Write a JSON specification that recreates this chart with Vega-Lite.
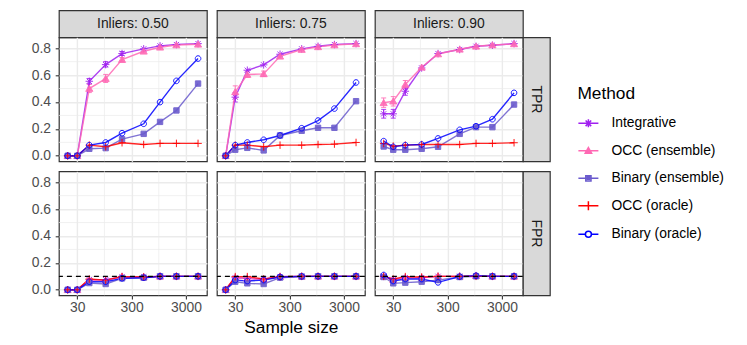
{
"$schema": "https://vega.github.io/schema/vega-lite/v6.json",
"padding": {"left": 29.9, "top": 9.3, "right": 5, "bottom": 5},
"datasets": {
"my": [{"v":0.1},{"v":0.3},{"v":0.5},{"v":0.7}],
"mx": [{"v":94.87},{"v":948.7}],
"ref": [{"v":0.1}],
"t50": [
{"method":"Integrative","n":20,"v":0},{"method":"Integrative","n":30,"v":0},{"method":"Integrative","n":50,"v":0.554,"lo":0.535,"hi":0.575},{"method":"Integrative","n":100,"v":0.678,"lo":0.66,"hi":0.7},{"method":"Integrative","n":200,"v":0.76,"lo":0.745,"hi":0.775},{"method":"Integrative","n":500,"v":0.795},{"method":"Integrative","n":1000,"v":0.817},{"method":"Integrative","n":2000,"v":0.827},{"method":"Integrative","n":5000,"v":0.834},
{"method":"OCC (ensemble)","n":20,"v":0},{"method":"OCC (ensemble)","n":30,"v":0},{"method":"OCC (ensemble)","n":50,"v":0.5,"lo":0.47,"hi":0.53},{"method":"OCC (ensemble)","n":100,"v":0.574,"lo":0.545,"hi":0.605},{"method":"OCC (ensemble)","n":200,"v":0.715,"lo":0.7,"hi":0.73},{"method":"OCC (ensemble)","n":500,"v":0.777},{"method":"OCC (ensemble)","n":1000,"v":0.807},{"method":"OCC (ensemble)","n":2000,"v":0.824},{"method":"OCC (ensemble)","n":5000,"v":0.829},
{"method":"Binary (ensemble)","n":20,"v":0},{"method":"Binary (ensemble)","n":30,"v":0},{"method":"Binary (ensemble)","n":50,"v":0.052},{"method":"Binary (ensemble)","n":100,"v":0.057},{"method":"Binary (ensemble)","n":200,"v":0.124},{"method":"Binary (ensemble)","n":500,"v":0.163},{"method":"Binary (ensemble)","n":1000,"v":0.252},{"method":"Binary (ensemble)","n":2000,"v":0.337},{"method":"Binary (ensemble)","n":5000,"v":0.537},
{"method":"OCC (oracle)","n":20,"v":0},{"method":"OCC (oracle)","n":30,"v":0},{"method":"OCC (oracle)","n":50,"v":0.079},{"method":"OCC (oracle)","n":100,"v":0.067},{"method":"OCC (oracle)","n":200,"v":0.097},{"method":"OCC (oracle)","n":500,"v":0.084},{"method":"OCC (oracle)","n":1000,"v":0.092},{"method":"OCC (oracle)","n":2000,"v":0.092},{"method":"OCC (oracle)","n":5000,"v":0.092},
{"method":"Binary (oracle)","n":20,"v":0},{"method":"Binary (oracle)","n":30,"v":0},{"method":"Binary (oracle)","n":50,"v":0.079},{"method":"Binary (oracle)","n":100,"v":0.099},{"method":"Binary (oracle)","n":200,"v":0.168},{"method":"Binary (oracle)","n":500,"v":0.238},{"method":"Binary (oracle)","n":1000,"v":0.399},{"method":"Binary (oracle)","n":2000,"v":0.557},{"method":"Binary (oracle)","n":5000,"v":0.723}
],
"t75": [
{"method":"Integrative","n":20,"v":0},{"method":"Integrative","n":30,"v":0.436,"lo":0.4,"hi":0.47},{"method":"Integrative","n":50,"v":0.636},{"method":"Integrative","n":100,"v":0.676},{"method":"Integrative","n":200,"v":0.755},{"method":"Integrative","n":500,"v":0.795},{"method":"Integrative","n":1000,"v":0.814},{"method":"Integrative","n":2000,"v":0.827},{"method":"Integrative","n":5000,"v":0.834},
{"method":"OCC (ensemble)","n":20,"v":0},{"method":"OCC (ensemble)","n":30,"v":0.475,"lo":0.43,"hi":0.52},{"method":"OCC (ensemble)","n":50,"v":0.604,"lo":0.585,"hi":0.625},{"method":"OCC (ensemble)","n":100,"v":0.609,"lo":0.59,"hi":0.63},{"method":"OCC (ensemble)","n":200,"v":0.74},{"method":"OCC (ensemble)","n":500,"v":0.79},{"method":"OCC (ensemble)","n":1000,"v":0.81},{"method":"OCC (ensemble)","n":2000,"v":0.824},{"method":"OCC (ensemble)","n":5000,"v":0.832},
{"method":"Binary (ensemble)","n":20,"v":0},{"method":"Binary (ensemble)","n":30,"v":0.045},{"method":"Binary (ensemble)","n":50,"v":0.059},{"method":"Binary (ensemble)","n":100,"v":0.04},{"method":"Binary (ensemble)","n":200,"v":0.151},{"method":"Binary (ensemble)","n":500,"v":0.186},{"method":"Binary (ensemble)","n":1000,"v":0.208},{"method":"Binary (ensemble)","n":2000,"v":0.208},{"method":"Binary (ensemble)","n":5000,"v":0.406},
{"method":"OCC (oracle)","n":20,"v":0},{"method":"OCC (oracle)","n":30,"v":0.079},{"method":"OCC (oracle)","n":50,"v":0.079},{"method":"OCC (oracle)","n":100,"v":0.067},{"method":"OCC (oracle)","n":200,"v":0.079},{"method":"OCC (oracle)","n":500,"v":0.079},{"method":"OCC (oracle)","n":1000,"v":0.084},{"method":"OCC (oracle)","n":2000,"v":0.087},{"method":"OCC (oracle)","n":5000,"v":0.099},
{"method":"Binary (oracle)","n":20,"v":0},{"method":"Binary (oracle)","n":30,"v":0.079},{"method":"Binary (oracle)","n":50,"v":0.099},{"method":"Binary (oracle)","n":100,"v":0.119},{"method":"Binary (oracle)","n":200,"v":0.151},{"method":"Binary (oracle)","n":500,"v":0.205},{"method":"Binary (oracle)","n":1000,"v":0.262},{"method":"Binary (oracle)","n":2000,"v":0.351},{"method":"Binary (oracle)","n":5000,"v":0.545}
],
"t90": [
{"method":"Integrative","n":20,"v":0.312,"lo":0.28,"hi":0.345},{"method":"Integrative","n":30,"v":0.312,"lo":0.28,"hi":0.345},{"method":"Integrative","n":50,"v":0.48,"lo":0.45,"hi":0.51},{"method":"Integrative","n":100,"v":0.653},{"method":"Integrative","n":200,"v":0.76},{"method":"Integrative","n":500,"v":0.79},{"method":"Integrative","n":1000,"v":0.814},{"method":"Integrative","n":2000,"v":0.822},{"method":"Integrative","n":5000,"v":0.834},
{"method":"OCC (ensemble)","n":20,"v":0.394,"lo":0.36,"hi":0.43},{"method":"OCC (ensemble)","n":30,"v":0.406,"lo":0.37,"hi":0.44},{"method":"OCC (ensemble)","n":50,"v":0.53,"lo":0.5,"hi":0.56},{"method":"OCC (ensemble)","n":100,"v":0.658},{"method":"OCC (ensemble)","n":200,"v":0.757},{"method":"OCC (ensemble)","n":500,"v":0.792},{"method":"OCC (ensemble)","n":1000,"v":0.814},{"method":"OCC (ensemble)","n":2000,"v":0.824},{"method":"OCC (ensemble)","n":5000,"v":0.832},
{"method":"Binary (ensemble)","n":20,"v":0.069},{"method":"Binary (ensemble)","n":30,"v":0.045},{"method":"Binary (ensemble)","n":50,"v":0.045},{"method":"Binary (ensemble)","n":100,"v":0.052},{"method":"Binary (ensemble)","n":200,"v":0.067},{"method":"Binary (ensemble)","n":500,"v":0.163},{"method":"Binary (ensemble)","n":1000,"v":0.213},{"method":"Binary (ensemble)","n":2000,"v":0.213},{"method":"Binary (ensemble)","n":5000,"v":0.381},
{"method":"OCC (oracle)","n":20,"v":0.092},{"method":"OCC (oracle)","n":30,"v":0.072},{"method":"OCC (oracle)","n":50,"v":0.079},{"method":"OCC (oracle)","n":100,"v":0.084},{"method":"OCC (oracle)","n":200,"v":0.084},{"method":"OCC (oracle)","n":500,"v":0.084},{"method":"OCC (oracle)","n":1000,"v":0.092},{"method":"OCC (oracle)","n":2000,"v":0.092},{"method":"OCC (oracle)","n":5000,"v":0.097},
{"method":"Binary (oracle)","n":20,"v":0.109},{"method":"Binary (oracle)","n":30,"v":0.067},{"method":"Binary (oracle)","n":50,"v":0.079},{"method":"Binary (oracle)","n":100,"v":0.084},{"method":"Binary (oracle)","n":200,"v":0.129},{"method":"Binary (oracle)","n":500,"v":0.193},{"method":"Binary (oracle)","n":1000,"v":0.22},{"method":"Binary (oracle)","n":2000,"v":0.272},{"method":"Binary (oracle)","n":5000,"v":0.468}
],
"f50": [
{"method":"Integrative","n":20,"v":0},{"method":"Integrative","n":30,"v":0},{"method":"Integrative","n":50,"v":0.075},{"method":"Integrative","n":100,"v":0.075},{"method":"Integrative","n":200,"v":0.098},{"method":"Integrative","n":500,"v":0.096},{"method":"Integrative","n":1000,"v":0.1},{"method":"Integrative","n":2000,"v":0.1},{"method":"Integrative","n":5000,"v":0.1},
{"method":"OCC (ensemble)","n":20,"v":0},{"method":"OCC (ensemble)","n":30,"v":0},{"method":"OCC (ensemble)","n":50,"v":0.075},{"method":"OCC (ensemble)","n":100,"v":0.07},{"method":"OCC (ensemble)","n":200,"v":0.097},{"method":"OCC (ensemble)","n":500,"v":0.095},{"method":"OCC (ensemble)","n":1000,"v":0.1},{"method":"OCC (ensemble)","n":2000,"v":0.1},{"method":"OCC (ensemble)","n":5000,"v":0.1},
{"method":"Binary (ensemble)","n":20,"v":0},{"method":"Binary (ensemble)","n":30,"v":0},{"method":"Binary (ensemble)","n":50,"v":0.05},{"method":"Binary (ensemble)","n":100,"v":0.043},{"method":"Binary (ensemble)","n":200,"v":0.085},{"method":"Binary (ensemble)","n":500,"v":0.09},{"method":"Binary (ensemble)","n":1000,"v":0.1},{"method":"Binary (ensemble)","n":2000,"v":0.1},{"method":"Binary (ensemble)","n":5000,"v":0.1},
{"method":"OCC (oracle)","n":20,"v":0},{"method":"OCC (oracle)","n":30,"v":0},{"method":"OCC (oracle)","n":50,"v":0.08},{"method":"OCC (oracle)","n":100,"v":0.072},{"method":"OCC (oracle)","n":200,"v":0.098},{"method":"OCC (oracle)","n":500,"v":0.095},{"method":"OCC (oracle)","n":1000,"v":0.1},{"method":"OCC (oracle)","n":2000,"v":0.1},{"method":"OCC (oracle)","n":5000,"v":0.1},
{"method":"Binary (oracle)","n":20,"v":0},{"method":"Binary (oracle)","n":30,"v":0},{"method":"Binary (oracle)","n":50,"v":0.06},{"method":"Binary (oracle)","n":100,"v":0.06},{"method":"Binary (oracle)","n":200,"v":0.085},{"method":"Binary (oracle)","n":500,"v":0.09},{"method":"Binary (oracle)","n":1000,"v":0.1},{"method":"Binary (oracle)","n":2000,"v":0.1},{"method":"Binary (oracle)","n":5000,"v":0.1}
],
"f75": [
{"method":"Integrative","n":20,"v":0},{"method":"Integrative","n":30,"v":0.09},{"method":"Integrative","n":50,"v":0.085},{"method":"Integrative","n":100,"v":0.078},{"method":"Integrative","n":200,"v":0.098},{"method":"Integrative","n":500,"v":0.1},{"method":"Integrative","n":1000,"v":0.1},{"method":"Integrative","n":2000,"v":0.1},{"method":"Integrative","n":5000,"v":0.1},
{"method":"OCC (ensemble)","n":20,"v":0},{"method":"OCC (ensemble)","n":30,"v":0.09},{"method":"OCC (ensemble)","n":50,"v":0.085},{"method":"OCC (ensemble)","n":100,"v":0.078},{"method":"OCC (ensemble)","n":200,"v":0.097},{"method":"OCC (ensemble)","n":500,"v":0.1},{"method":"OCC (ensemble)","n":1000,"v":0.1},{"method":"OCC (ensemble)","n":2000,"v":0.1},{"method":"OCC (ensemble)","n":5000,"v":0.1},
{"method":"Binary (ensemble)","n":20,"v":0},{"method":"Binary (ensemble)","n":30,"v":0.06},{"method":"Binary (ensemble)","n":50,"v":0.048},{"method":"Binary (ensemble)","n":100,"v":0.043},{"method":"Binary (ensemble)","n":200,"v":0.09},{"method":"Binary (ensemble)","n":500,"v":0.098},{"method":"Binary (ensemble)","n":1000,"v":0.1},{"method":"Binary (ensemble)","n":2000,"v":0.1},{"method":"Binary (ensemble)","n":5000,"v":0.1},
{"method":"OCC (oracle)","n":20,"v":0},{"method":"OCC (oracle)","n":30,"v":0.098},{"method":"OCC (oracle)","n":50,"v":0.098},{"method":"OCC (oracle)","n":100,"v":0.08},{"method":"OCC (oracle)","n":200,"v":0.098},{"method":"OCC (oracle)","n":500,"v":0.1},{"method":"OCC (oracle)","n":1000,"v":0.1},{"method":"OCC (oracle)","n":2000,"v":0.1},{"method":"OCC (oracle)","n":5000,"v":0.1},
{"method":"Binary (oracle)","n":20,"v":0},{"method":"Binary (oracle)","n":30,"v":0.072},{"method":"Binary (oracle)","n":50,"v":0.065},{"method":"Binary (oracle)","n":100,"v":0.072},{"method":"Binary (oracle)","n":200,"v":0.095},{"method":"Binary (oracle)","n":500,"v":0.1},{"method":"Binary (oracle)","n":1000,"v":0.1},{"method":"Binary (oracle)","n":2000,"v":0.1},{"method":"Binary (oracle)","n":5000,"v":0.1}
],
"f90": [
{"method":"Integrative","n":20,"v":0.1},{"method":"Integrative","n":30,"v":0.075},{"method":"Integrative","n":50,"v":0.09},{"method":"Integrative","n":100,"v":0.09},{"method":"Integrative","n":200,"v":0.1},{"method":"Integrative","n":500,"v":0.1},{"method":"Integrative","n":1000,"v":0.105},{"method":"Integrative","n":2000,"v":0.1},{"method":"Integrative","n":5000,"v":0.1},
{"method":"OCC (ensemble)","n":20,"v":0.1},{"method":"OCC (ensemble)","n":30,"v":0.075},{"method":"OCC (ensemble)","n":50,"v":0.09},{"method":"OCC (ensemble)","n":100,"v":0.092},{"method":"OCC (ensemble)","n":200,"v":0.1},{"method":"OCC (ensemble)","n":500,"v":0.1},{"method":"OCC (ensemble)","n":1000,"v":0.105},{"method":"OCC (ensemble)","n":2000,"v":0.1},{"method":"OCC (ensemble)","n":5000,"v":0.1},
{"method":"Binary (ensemble)","n":20,"v":0.095},{"method":"Binary (ensemble)","n":30,"v":0.048},{"method":"Binary (ensemble)","n":50,"v":0.053},{"method":"Binary (ensemble)","n":100,"v":0.06},{"method":"Binary (ensemble)","n":200,"v":0.072},{"method":"Binary (ensemble)","n":500,"v":0.095},{"method":"Binary (ensemble)","n":1000,"v":0.1},{"method":"Binary (ensemble)","n":2000,"v":0.1},{"method":"Binary (ensemble)","n":5000,"v":0.1},
{"method":"OCC (oracle)","n":20,"v":0.1},{"method":"OCC (oracle)","n":30,"v":0.08},{"method":"OCC (oracle)","n":50,"v":0.098},{"method":"OCC (oracle)","n":100,"v":0.095},{"method":"OCC (oracle)","n":200,"v":0.1},{"method":"OCC (oracle)","n":500,"v":0.1},{"method":"OCC (oracle)","n":1000,"v":0.1},{"method":"OCC (oracle)","n":2000,"v":0.1},{"method":"OCC (oracle)","n":5000,"v":0.1},
{"method":"Binary (oracle)","n":20,"v":0.11},{"method":"Binary (oracle)","n":30,"v":0.065},{"method":"Binary (oracle)","n":50,"v":0.08},{"method":"Binary (oracle)","n":100,"v":0.08},{"method":"Binary (oracle)","n":200,"v":0.055},{"method":"Binary (oracle)","n":500,"v":0.098},{"method":"Binary (oracle)","n":1000,"v":0.105},{"method":"Binary (oracle)","n":2000,"v":0.1},{"method":"Binary (oracle)","n":5000,"v":0.1}
]
},
"columns": 6,
"spacing": 0,
"align": "each",
"bounds": "flush",
"resolve": {"scale": {"color": "independent", "shape": "independent", "fill": "independent", "x": "independent", "y": "independent"}, "legend": {"color": "independent", "shape": "independent"}},
"concat": [
{"width":148,"height":27,"data":{"values":[{"t":"Inliers: 0.50"}]},"mark":{"type":"text","fontSize":13.9,"color":"#1A1A1A"},"encoding":{"text":{"field":"t","type":"nominal"}},"view":{"fill":"#D9D9D9","stroke":"#333333","strokeWidth":1.2}},
{"width":10,"height":27,"data":{"values":[{}]},"mark":"text","encoding":{"text":{"value":""}},"view":{"stroke":null}},
{"width":148,"height":27,"data":{"values":[{"t":"Inliers: 0.75"}]},"mark":{"type":"text","fontSize":13.9,"color":"#1A1A1A"},"encoding":{"text":{"field":"t","type":"nominal"}},"view":{"fill":"#D9D9D9","stroke":"#333333","strokeWidth":1.2}},
{"width":10,"height":27,"data":{"values":[{}]},"mark":"text","encoding":{"text":{"value":""}},"view":{"stroke":null}},
{"width":148,"height":27,"data":{"values":[{"t":"Inliers: 0.90"}]},"mark":{"type":"text","fontSize":13.9,"color":"#1A1A1A"},"encoding":{"text":{"field":"t","type":"nominal"}},"view":{"fill":"#D9D9D9","stroke":"#333333","strokeWidth":1.2}},
{"width":27,"height":27,"view":{"stroke":null},"data":{"values":[]},"mark":{"type":"point","filled":false,"opacity":1,"strokeWidth":1.5},
 "encoding":{
  "color":{"field":"method","type":"nominal","scale":{"domain":["Integrative","OCC (ensemble)","Binary (ensemble)","OCC (oracle)","Binary (oracle)"],"range":["#A020F0","#FF69B4","#6A5ACD","#FF0000","#0000FF"]},"legend":{"title":"Method","orient":"none","legendX":54.5,"legendY":74.7}},
  "shape":{"field":"method","type":"nominal","scale":{"domain":["Integrative","OCC (ensemble)","Binary (ensemble)","OCC (oracle)","Binary (oracle)"],"range":["M-1,0H1M0,-0.4V0.4M-0.28,-0.28L0.28,0.28M-0.28,0.28L0.28,-0.28","M-1,0H1M0,-0.32L0.32,0.24H-0.32ZM0,-0.14L0.14,0.12H-0.14Z","M-1,0H1M-0.26,-0.26H0.26V0.26H-0.26ZM-0.1,-0.1H0.1V0.1H-0.1Z","M-1,0H1M0,-0.45V0.45","M-1,0H-0.3M0.3,0H1M0.3,0A0.3,0.3,0,1,1,-0.3,0A0.3,0.3,0,1,1,0.3,0Z"]},"legend":{"title":"Method","orient":"none","legendX":54.5,"legendY":74.7}}
 }},

{"width":148,"height":124,"data":{"name":"t50"},"layer":[
 {"data":{"name":"my"},"mark":{"type":"rule","color":"#EBEBEB","strokeWidth":0.7},"encoding":{"y":{"field":"v","type":"quantitative","scale":{"domain":[-0.041,0.881],"nice":false,"zero":false},"axis":{"values":[0,0.2,0.4,0.6,0.8],"format":".1f","title":null,"labelOverlap":false}}}},
 {"data":{"name":"mx"},"mark":{"type":"rule","color":"#EBEBEB","strokeWidth":0.7},"encoding":{"x":{"field":"v","type":"quantitative","scale":{"type":"log","domain":[13.8,7270],"nice":false},"axis":{"values":[30,300,3000],"labels":false,"ticks":false,"title":null}}}},
 {"transform":[{"filter":"isValid(datum.lo)"}],"mark":{"type":"errorbar","ticks":true,"thickness":1,"opacity":0.85},"encoding":{"x":{"field":"n","type":"quantitative","axis":{"values":[30,300,3000],"labels":false,"ticks":false,"title":null}},"y":{"field":"lo","type":"quantitative","axis":{"values":[0,0.2,0.4,0.6,0.8],"format":".1f","title":null,"labelOverlap":false}},"y2":{"field":"hi"},"color":{"field":"method","type":"nominal","scale":{"domain":["Integrative","OCC (ensemble)","Binary (ensemble)","OCC (oracle)","Binary (oracle)"],"range":["#A020F0","#FF69B4","#6A5ACD","#FF0000","#0000FF"]},"legend":null}}},
 {"mark":{"type":"line","strokeWidth":1.4,"opacity":0.85},"encoding":{"x":{"field":"n","type":"quantitative","axis":{"values":[30,300,3000],"labels":false,"ticks":false,"title":null}},"y":{"field":"v","type":"quantitative","axis":{"values":[0,0.2,0.4,0.6,0.8],"format":".1f","title":null,"labelOverlap":false}},"color":{"field":"method","type":"nominal","legend":null}}},
 {"mark":{"type":"point","filled":false,"size":56,"strokeWidth":1,"opacity":0.9},"encoding":{"x":{"field":"n","type":"quantitative","axis":{"values":[30,300,3000],"labels":false,"ticks":false,"title":null}},"y":{"field":"v","type":"quantitative","axis":{"values":[0,0.2,0.4,0.6,0.8],"format":".1f","title":null,"labelOverlap":false}},"color":{"field":"method","type":"nominal","legend":null},
  "shape":{"field":"method","type":"nominal","legend":null,"scale":{"domain":["Integrative","OCC (ensemble)","Binary (ensemble)","OCC (oracle)","Binary (oracle)"],"range":["M0,-1V1M-1,0H1M-0.7,-0.7L0.7,0.7M-0.7,0.7L0.7,-0.7","M0,-0.85L0.95,0.75H-0.95Z","M-0.72,-0.72H0.72V0.72H-0.72Z","M0,-1V1M-1,0H1","M0.75,0A0.75,0.75,0,1,1,-0.75,0A0.75,0.75,0,1,1,0.75,0Z"]}},
  "fill":{"field":"method","type":"nominal","legend":null,"scale":{"domain":["Integrative","OCC (ensemble)","Binary (ensemble)","OCC (oracle)","Binary (oracle)"],"range":["transparent","#FF69B4","#6A5ACD","transparent","transparent"]}}}}
]},
{"width":10,"height":124,"data":{"values":[{}]},"mark":"text","encoding":{"text":{"value":""}},"view":{"stroke":null}},
{"width":148,"height":124,"data":{"name":"t75"},"layer":[
 {"data":{"name":"my"},"mark":{"type":"rule","color":"#EBEBEB","strokeWidth":0.7},"encoding":{"y":{"field":"v","type":"quantitative","scale":{"domain":[-0.041,0.881],"nice":false,"zero":false},"axis":{"values":[0,0.2,0.4,0.6,0.8],"labels":false,"ticks":false,"title":null}}}},
 {"data":{"name":"mx"},"mark":{"type":"rule","color":"#EBEBEB","strokeWidth":0.7},"encoding":{"x":{"field":"v","type":"quantitative","scale":{"type":"log","domain":[13.8,7270],"nice":false},"axis":{"values":[30,300,3000],"labels":false,"ticks":false,"title":null}}}},
 {"transform":[{"filter":"isValid(datum.lo)"}],"mark":{"type":"errorbar","ticks":true,"thickness":1,"opacity":0.85},"encoding":{"x":{"field":"n","type":"quantitative","axis":{"values":[30,300,3000],"labels":false,"ticks":false,"title":null}},"y":{"field":"lo","type":"quantitative","axis":{"values":[0,0.2,0.4,0.6,0.8],"labels":false,"ticks":false,"title":null}},"y2":{"field":"hi"},"color":{"field":"method","type":"nominal","scale":{"domain":["Integrative","OCC (ensemble)","Binary (ensemble)","OCC (oracle)","Binary (oracle)"],"range":["#A020F0","#FF69B4","#6A5ACD","#FF0000","#0000FF"]},"legend":null}}},
 {"mark":{"type":"line","strokeWidth":1.4,"opacity":0.85},"encoding":{"x":{"field":"n","type":"quantitative","axis":{"values":[30,300,3000],"labels":false,"ticks":false,"title":null}},"y":{"field":"v","type":"quantitative","axis":{"values":[0,0.2,0.4,0.6,0.8],"labels":false,"ticks":false,"title":null}},"color":{"field":"method","type":"nominal","legend":null}}},
 {"mark":{"type":"point","filled":false,"size":56,"strokeWidth":1,"opacity":0.9},"encoding":{"x":{"field":"n","type":"quantitative","axis":{"values":[30,300,3000],"labels":false,"ticks":false,"title":null}},"y":{"field":"v","type":"quantitative","axis":{"values":[0,0.2,0.4,0.6,0.8],"labels":false,"ticks":false,"title":null}},"color":{"field":"method","type":"nominal","legend":null},
  "shape":{"field":"method","type":"nominal","legend":null,"scale":{"domain":["Integrative","OCC (ensemble)","Binary (ensemble)","OCC (oracle)","Binary (oracle)"],"range":["M0,-1V1M-1,0H1M-0.7,-0.7L0.7,0.7M-0.7,0.7L0.7,-0.7","M0,-0.85L0.95,0.75H-0.95Z","M-0.72,-0.72H0.72V0.72H-0.72Z","M0,-1V1M-1,0H1","M0.75,0A0.75,0.75,0,1,1,-0.75,0A0.75,0.75,0,1,1,0.75,0Z"]}},
  "fill":{"field":"method","type":"nominal","legend":null,"scale":{"domain":["Integrative","OCC (ensemble)","Binary (ensemble)","OCC (oracle)","Binary (oracle)"],"range":["transparent","#FF69B4","#6A5ACD","transparent","transparent"]}}}}
]},
{"width":10,"height":124,"data":{"values":[{}]},"mark":"text","encoding":{"text":{"value":""}},"view":{"stroke":null}},
{"width":148,"height":124,"data":{"name":"t90"},"layer":[
 {"data":{"name":"my"},"mark":{"type":"rule","color":"#EBEBEB","strokeWidth":0.7},"encoding":{"y":{"field":"v","type":"quantitative","scale":{"domain":[-0.041,0.881],"nice":false,"zero":false},"axis":{"values":[0,0.2,0.4,0.6,0.8],"labels":false,"ticks":false,"title":null}}}},
 {"data":{"name":"mx"},"mark":{"type":"rule","color":"#EBEBEB","strokeWidth":0.7},"encoding":{"x":{"field":"v","type":"quantitative","scale":{"type":"log","domain":[13.8,7270],"nice":false},"axis":{"values":[30,300,3000],"labels":false,"ticks":false,"title":null}}}},
 {"transform":[{"filter":"isValid(datum.lo)"}],"mark":{"type":"errorbar","ticks":true,"thickness":1,"opacity":0.85},"encoding":{"x":{"field":"n","type":"quantitative","axis":{"values":[30,300,3000],"labels":false,"ticks":false,"title":null}},"y":{"field":"lo","type":"quantitative","axis":{"values":[0,0.2,0.4,0.6,0.8],"labels":false,"ticks":false,"title":null}},"y2":{"field":"hi"},"color":{"field":"method","type":"nominal","scale":{"domain":["Integrative","OCC (ensemble)","Binary (ensemble)","OCC (oracle)","Binary (oracle)"],"range":["#A020F0","#FF69B4","#6A5ACD","#FF0000","#0000FF"]},"legend":null}}},
 {"mark":{"type":"line","strokeWidth":1.4,"opacity":0.85},"encoding":{"x":{"field":"n","type":"quantitative","axis":{"values":[30,300,3000],"labels":false,"ticks":false,"title":null}},"y":{"field":"v","type":"quantitative","axis":{"values":[0,0.2,0.4,0.6,0.8],"labels":false,"ticks":false,"title":null}},"color":{"field":"method","type":"nominal","legend":null}}},
 {"mark":{"type":"point","filled":false,"size":56,"strokeWidth":1,"opacity":0.9},"encoding":{"x":{"field":"n","type":"quantitative","axis":{"values":[30,300,3000],"labels":false,"ticks":false,"title":null}},"y":{"field":"v","type":"quantitative","axis":{"values":[0,0.2,0.4,0.6,0.8],"labels":false,"ticks":false,"title":null}},"color":{"field":"method","type":"nominal","legend":null},
  "shape":{"field":"method","type":"nominal","legend":null,"scale":{"domain":["Integrative","OCC (ensemble)","Binary (ensemble)","OCC (oracle)","Binary (oracle)"],"range":["M0,-1V1M-1,0H1M-0.7,-0.7L0.7,0.7M-0.7,0.7L0.7,-0.7","M0,-0.85L0.95,0.75H-0.95Z","M-0.72,-0.72H0.72V0.72H-0.72Z","M0,-1V1M-1,0H1","M0.75,0A0.75,0.75,0,1,1,-0.75,0A0.75,0.75,0,1,1,0.75,0Z"]}},
  "fill":{"field":"method","type":"nominal","legend":null,"scale":{"domain":["Integrative","OCC (ensemble)","Binary (ensemble)","OCC (oracle)","Binary (oracle)"],"range":["transparent","#FF69B4","#6A5ACD","transparent","transparent"]}}}}
]},
{"width":27,"height":124,"data":{"values":[{"t":"TPR"}]},"mark":{"type":"text","angle":90,"fontSize":13.9,"color":"#1A1A1A"},"encoding":{"text":{"field":"t","type":"nominal"}},"view":{"fill":"#D9D9D9","stroke":"#333333","strokeWidth":1.2}},

{"width":1,"height":10,"data":{"values":[{}]},"mark":"text","encoding":{"text":{"value":""}},"view":{"stroke":null}},
{"width":1,"height":10,"data":{"values":[{}]},"mark":"text","encoding":{"text":{"value":""}},"view":{"stroke":null}},
{"width":1,"height":10,"data":{"values":[{}]},"mark":"text","encoding":{"text":{"value":""}},"view":{"stroke":null}},
{"width":1,"height":10,"data":{"values":[{}]},"mark":"text","encoding":{"text":{"value":""}},"view":{"stroke":null}},
{"width":1,"height":10,"data":{"values":[{}]},"mark":"text","encoding":{"text":{"value":""}},"view":{"stroke":null}},
{"width":1,"height":10,"data":{"values":[{}]},"mark":"text","encoding":{"text":{"value":""}},"view":{"stroke":null}},

{"width":148,"height":124,"data":{"name":"f50"},"layer":[
 {"data":{"name":"my"},"mark":{"type":"rule","color":"#EBEBEB","strokeWidth":0.7},"encoding":{"y":{"field":"v","type":"quantitative","scale":{"domain":[-0.041,0.881],"nice":false,"zero":false},"axis":{"values":[0,0.2,0.4,0.6,0.8],"format":".1f","title":null,"labelOverlap":false}}}},
 {"data":{"name":"mx"},"mark":{"type":"rule","color":"#EBEBEB","strokeWidth":0.7},"encoding":{"x":{"field":"v","type":"quantitative","scale":{"type":"log","domain":[13.8,7270],"nice":false},"axis":{"values":[30,300,3000],"format":"d","title":null,"labelOverlap":false}}}},
 {"mark":{"type":"line","strokeWidth":1.4,"opacity":0.85},"encoding":{"x":{"field":"n","type":"quantitative","axis":{"values":[30,300,3000],"format":"d","title":null,"labelOverlap":false}},"y":{"field":"v","type":"quantitative","axis":{"values":[0,0.2,0.4,0.6,0.8],"format":".1f","title":null,"labelOverlap":false}},"color":{"field":"method","type":"nominal","legend":null,"scale":{"domain":["Integrative","OCC (ensemble)","Binary (ensemble)","OCC (oracle)","Binary (oracle)"],"range":["#A020F0","#FF69B4","#6A5ACD","#FF0000","#0000FF"]}}}},
 {"mark":{"type":"point","filled":false,"size":56,"strokeWidth":1,"opacity":0.9},"encoding":{"x":{"field":"n","type":"quantitative","axis":{"values":[30,300,3000],"format":"d","title":null,"labelOverlap":false}},"y":{"field":"v","type":"quantitative","axis":{"values":[0,0.2,0.4,0.6,0.8],"format":".1f","title":null,"labelOverlap":false}},"color":{"field":"method","type":"nominal","legend":null},
  "shape":{"field":"method","type":"nominal","legend":null,"scale":{"domain":["Integrative","OCC (ensemble)","Binary (ensemble)","OCC (oracle)","Binary (oracle)"],"range":["M0,-1V1M-1,0H1M-0.7,-0.7L0.7,0.7M-0.7,0.7L0.7,-0.7","M0,-0.85L0.95,0.75H-0.95Z","M-0.72,-0.72H0.72V0.72H-0.72Z","M0,-1V1M-1,0H1","M0.75,0A0.75,0.75,0,1,1,-0.75,0A0.75,0.75,0,1,1,0.75,0Z"]}},
  "fill":{"field":"method","type":"nominal","legend":null,"scale":{"domain":["Integrative","OCC (ensemble)","Binary (ensemble)","OCC (oracle)","Binary (oracle)"],"range":["transparent","#FF69B4","#6A5ACD","transparent","transparent"]}}}},
 {"data":{"name":"ref"},"mark":{"type":"rule","color":"black","strokeDash":[5,4],"strokeWidth":1.2},"encoding":{"y":{"field":"v","type":"quantitative","axis":{"values":[0,0.2,0.4,0.6,0.8],"format":".1f","title":null,"labelOverlap":false}}}}
]},
{"width":10,"height":124,"data":{"values":[{}]},"mark":"text","encoding":{"text":{"value":""}},"view":{"stroke":null}},
{"width":148,"height":124,"data":{"name":"f75"},"layer":[
 {"data":{"name":"my"},"mark":{"type":"rule","color":"#EBEBEB","strokeWidth":0.7},"encoding":{"y":{"field":"v","type":"quantitative","scale":{"domain":[-0.041,0.881],"nice":false,"zero":false},"axis":{"values":[0,0.2,0.4,0.6,0.8],"labels":false,"ticks":false,"title":null}}}},
 {"data":{"name":"mx"},"mark":{"type":"rule","color":"#EBEBEB","strokeWidth":0.7},"encoding":{"x":{"field":"v","type":"quantitative","scale":{"type":"log","domain":[13.8,7270],"nice":false},"axis":{"values":[30,300,3000],"format":"d","title":"Sample size","labelOverlap":false}}}},
 {"mark":{"type":"line","strokeWidth":1.4,"opacity":0.85},"encoding":{"x":{"field":"n","type":"quantitative","axis":{"values":[30,300,3000],"format":"d","title":"Sample size","labelOverlap":false}},"y":{"field":"v","type":"quantitative","axis":{"values":[0,0.2,0.4,0.6,0.8],"labels":false,"ticks":false,"title":null}},"color":{"field":"method","type":"nominal","legend":null,"scale":{"domain":["Integrative","OCC (ensemble)","Binary (ensemble)","OCC (oracle)","Binary (oracle)"],"range":["#A020F0","#FF69B4","#6A5ACD","#FF0000","#0000FF"]}}}},
 {"mark":{"type":"point","filled":false,"size":56,"strokeWidth":1,"opacity":0.9},"encoding":{"x":{"field":"n","type":"quantitative","axis":{"values":[30,300,3000],"format":"d","title":"Sample size","labelOverlap":false}},"y":{"field":"v","type":"quantitative","axis":{"values":[0,0.2,0.4,0.6,0.8],"labels":false,"ticks":false,"title":null}},"color":{"field":"method","type":"nominal","legend":null},
  "shape":{"field":"method","type":"nominal","legend":null,"scale":{"domain":["Integrative","OCC (ensemble)","Binary (ensemble)","OCC (oracle)","Binary (oracle)"],"range":["M0,-1V1M-1,0H1M-0.7,-0.7L0.7,0.7M-0.7,0.7L0.7,-0.7","M0,-0.85L0.95,0.75H-0.95Z","M-0.72,-0.72H0.72V0.72H-0.72Z","M0,-1V1M-1,0H1","M0.75,0A0.75,0.75,0,1,1,-0.75,0A0.75,0.75,0,1,1,0.75,0Z"]}},
  "fill":{"field":"method","type":"nominal","legend":null,"scale":{"domain":["Integrative","OCC (ensemble)","Binary (ensemble)","OCC (oracle)","Binary (oracle)"],"range":["transparent","#FF69B4","#6A5ACD","transparent","transparent"]}}}},
 {"data":{"name":"ref"},"mark":{"type":"rule","color":"black","strokeDash":[5,4],"strokeWidth":1.2},"encoding":{"y":{"field":"v","type":"quantitative","axis":{"values":[0,0.2,0.4,0.6,0.8],"labels":false,"ticks":false,"title":null}}}}
]},
{"width":10,"height":124,"data":{"values":[{}]},"mark":"text","encoding":{"text":{"value":""}},"view":{"stroke":null}},
{"width":148,"height":124,"data":{"name":"f90"},"layer":[
 {"data":{"name":"my"},"mark":{"type":"rule","color":"#EBEBEB","strokeWidth":0.7},"encoding":{"y":{"field":"v","type":"quantitative","scale":{"domain":[-0.041,0.881],"nice":false,"zero":false},"axis":{"values":[0,0.2,0.4,0.6,0.8],"labels":false,"ticks":false,"title":null}}}},
 {"data":{"name":"mx"},"mark":{"type":"rule","color":"#EBEBEB","strokeWidth":0.7},"encoding":{"x":{"field":"v","type":"quantitative","scale":{"type":"log","domain":[13.8,7270],"nice":false},"axis":{"values":[30,300,3000],"format":"d","title":null,"labelOverlap":false}}}},
 {"mark":{"type":"line","strokeWidth":1.4,"opacity":0.85},"encoding":{"x":{"field":"n","type":"quantitative","axis":{"values":[30,300,3000],"format":"d","title":null,"labelOverlap":false}},"y":{"field":"v","type":"quantitative","axis":{"values":[0,0.2,0.4,0.6,0.8],"labels":false,"ticks":false,"title":null}},"color":{"field":"method","type":"nominal","legend":null,"scale":{"domain":["Integrative","OCC (ensemble)","Binary (ensemble)","OCC (oracle)","Binary (oracle)"],"range":["#A020F0","#FF69B4","#6A5ACD","#FF0000","#0000FF"]}}}},
 {"mark":{"type":"point","filled":false,"size":56,"strokeWidth":1,"opacity":0.9},"encoding":{"x":{"field":"n","type":"quantitative","axis":{"values":[30,300,3000],"format":"d","title":null,"labelOverlap":false}},"y":{"field":"v","type":"quantitative","axis":{"values":[0,0.2,0.4,0.6,0.8],"labels":false,"ticks":false,"title":null}},"color":{"field":"method","type":"nominal","legend":null},
  "shape":{"field":"method","type":"nominal","legend":null,"scale":{"domain":["Integrative","OCC (ensemble)","Binary (ensemble)","OCC (oracle)","Binary (oracle)"],"range":["M0,-1V1M-1,0H1M-0.7,-0.7L0.7,0.7M-0.7,0.7L0.7,-0.7","M0,-0.85L0.95,0.75H-0.95Z","M-0.72,-0.72H0.72V0.72H-0.72Z","M0,-1V1M-1,0H1","M0.75,0A0.75,0.75,0,1,1,-0.75,0A0.75,0.75,0,1,1,0.75,0Z"]}},
  "fill":{"field":"method","type":"nominal","legend":null,"scale":{"domain":["Integrative","OCC (ensemble)","Binary (ensemble)","OCC (oracle)","Binary (oracle)"],"range":["transparent","#FF69B4","#6A5ACD","transparent","transparent"]}}}},
 {"data":{"name":"ref"},"mark":{"type":"rule","color":"black","strokeDash":[5,4],"strokeWidth":1.2},"encoding":{"y":{"field":"v","type":"quantitative","axis":{"values":[0,0.2,0.4,0.6,0.8],"labels":false,"ticks":false,"title":null}}}}
]},
{"width":27,"height":124,"data":{"values":[{"t":"FPR"}]},"mark":{"type":"text","angle":90,"fontSize":13.9,"color":"#1A1A1A"},"encoding":{"text":{"field":"t","type":"nominal"}},"view":{"fill":"#D9D9D9","stroke":"#333333","strokeWidth":1.2}}
],
"config": {
 "font": "Liberation Sans",
 "view": {"stroke": "#333333", "strokeWidth": 1.2},
 "axis": {"domain": false, "grid": true, "gridColor": "#EBEBEB", "gridWidth": 1.4, "tickColor": "#333333", "tickSize": 3.7, "tickWidth": 1.1, "labelColor": "#4D4D4D", "labelFontSize": 13.9, "labelOverlap": false, "titleFontSize": 17.3, "titleFontWeight": "normal", "titleColor": "#000000", "titlePadding": 3.5},
 "axisX": {"labelPadding": 2},
 "axisY": {"labelPadding": 4.6},
 "legend": {"labelFontSize": 13.9, "labelColor": "#000000", "titleFontSize": 17.3, "titleFontWeight": "normal", "titleColor": "#000000", "titlePadding": 10, "symbolSize": 400, "symbolStrokeWidth": 1.5, "rowPadding": 9.5, "labelOffset": 12}
}
}
